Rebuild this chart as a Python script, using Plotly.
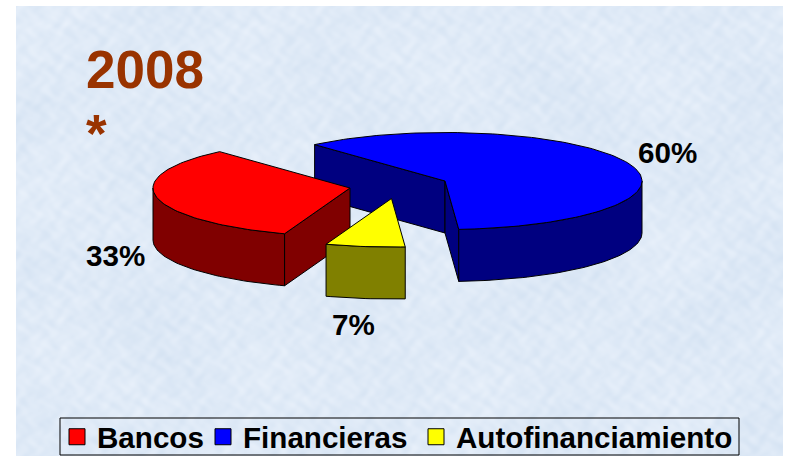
import base64, struct, zlib
import numpy as np
import plotly.graph_objects as go

# --- data ---
categories = ["Bancos", "Financieras", "Autofinanciamiento"]
values = [33.1, 60.4, 6.5]
value_labels = ["33%", "60%", "7%"]
top_colors = ["#ff0000", "#0000ff", "#ffff00"]
side_colors = ["#800000", "#000080", "#808000"]
title_text = "2008"
note_text = "*"

# --- projection of the 3-D pie, in page pixels ---
RX, RY, DEPTH = 197.0, 48.5, 52.0
START_DEG = 4.0           # measured from "south", running clockwise on screen
apex = {"Bancos": (350, 188), "Financieras": (445, 181), "Autofinanciamiento": (391.5, 198.5)}
W, H = 786, 456


def rim(cx, cy, a0, a1, dz=0.0):
    n = max(2, int(abs(a1 - a0) / 1.5) + 2)
    t = np.radians(np.linspace(a0, a1, n))
    return cx + RX * np.sin(t), cy + RY * np.cos(t) + dz


spans = {}
a = START_DEG
for name in ["Autofinanciamiento", "Bancos", "Financieras"]:
    sweep = values[categories.index(name)] / sum(values) * 360
    spans[name] = (a, a - sweep)
    a -= sweep

fig = go.Figure()


def poly(xs, ys, fill):
    fig.add_trace(go.Scatter(
        x=list(xs) + [xs[0]], y=list(ys) + [ys[0]], mode="lines", fill="toself",
        fillcolor=fill, line=dict(color="black", width=1), hoverinfo="skip", showlegend=False,
    ))


def wall(cx, cy, a0, a1, fill):
    x1, y1 = rim(cx, cy, a0, a1)
    x2, y2 = rim(cx, cy, a1, a0, DEPTH)
    poly(np.r_[x1, x2], np.r_[y1, y2], fill)


def cut(cx, cy, ang, fill):
    px, py = rim(cx, cy, ang, ang + 1)
    poly([cx, px[0], px[0], cx], [cy, py[0], py[0] + DEPTH, cy + DEPTH], fill)


def top(name):
    i = categories.index(name)
    cx, cy = apex[name]
    x, y = rim(cx, cy, *spans[name])
    poly(np.r_[cx, x], np.r_[cy, y], top_colors[i])


# painter's order: blue at the back, red, then yellow
name = "Financieras"
cx, cy = apex[name]
a0, a1 = spans[name]
side = side_colors[categories.index(name)]
cut(cx, cy, a0, side)
cut(cx, cy, a1, side)
wall(cx, cy, a1, -270, side)     # front cut round to the far right
top(name)

name = "Bancos"
cx, cy = apex[name]
a0, a1 = spans[name]
side = side_colors[categories.index(name)]
cut(cx, cy, a0, side)
wall(cx, cy, a0, -90, side)      # front cut round to the far left
top(name)

name = "Autofinanciamiento"
cx, cy = apex[name]
side = side_colors[categories.index(name)]
wall(cx, cy, spans[name][0], spans[name][1], side)
top(name)

# legend entries: each one in its own legend so it can sit where the reference has it
legend_ids = ["legend", "legend2", "legend3"]
legend_left = [57, 203, 416]
for c, col, lid in zip(categories, top_colors, legend_ids):
    fig.add_trace(go.Scatter(
        x=[None], y=[None], mode="markers", name=c, legend=lid,
        marker=dict(symbol="square", size=17, color=col, line=dict(color="black", width=1)),
    ))
legend_layout = {
    lid: dict(
        orientation="h", x=lx / W, y=1 - 437 / H, xanchor="left", yanchor="middle",
        bgcolor="rgba(0,0,0,0)", borderwidth=0,
        font=dict(size=29.6, color="black", family="Liberation Sans", weight="bold"),
        itemsizing="trace", itemwidth=30,
    )
    for lid, lx in zip(legend_ids, legend_left)
}

label_pos = {"33%": (115.5, 255), "60%": (667.5, 152), "7%": (353.5, 324)}
annotations = [
    dict(x=label_pos[t][0], y=label_pos[t][1], text=f"<b>{t}</b>", showarrow=False, xref="x", yref="y",
         xanchor="center", yanchor="middle", font=dict(size=29.6, color="black", family="Liberation Sans"))
    for t in value_labels
]
annotations += [
    dict(x=84, y=69, text=f"<b>{title_text}</b>", showarrow=False, xref="x", yref="y", xanchor="left",
         yanchor="middle", font=dict(size=53, color="#993300", family="Liberation Sans")),
    dict(x=84, y=133, text=f"<b>{note_text}</b>", showarrow=False, xref="x", yref="y", xanchor="left",
         yanchor="middle", font=dict(size=53, color="#993300", family="Liberation Sans")),
]


# soft mottled backdrop (decoration only), encoded as a small PNG
def backdrop(w=767, h=450):
    yy, xx = np.mgrid[0:h, 0:w].astype(float)
    s = (0.5 * np.sin(xx / 31 + 1.2 * np.sin(yy / 23)) + 0.5 * np.sin(yy / 27 + 1.4 * np.sin(xx / 37))
         + 0.6 * np.sin((xx + yy) / 5.1 + 1.5 * np.sin(xx / 7)) + 0.6 * np.sin((xx - yy) / 4.3 + 1.5 * np.sin(yy / 6))
         + 0.5 * np.sin(xx / 2.3 + 2 * np.sin(yy / 3.1)) + 0.5 * np.sin(yy / 2.7 + 2 * np.sin(xx / 3.7)))
    s = s / 3.2
    base = np.array([223, 234, 247.0])
    amp = np.array([10, 7, 4.0])
    rgb = np.clip(base[None, None, :] + s[:, :, None] * amp, 0, 255).astype(np.uint8)
    raw = b"".join(b"\x00" + rgb[r].tobytes() for r in range(h))

    def chunk(t, d):
        return struct.pack(">I", len(d)) + t + d + struct.pack(">I", zlib.crc32(t + d))

    png = b"\x89PNG\r\n\x1a\n" + chunk(b"IHDR", struct.pack(">IIBBBBB", w, h, 8, 2, 0, 0, 0)) \
        + chunk(b"IDAT", zlib.compress(raw)) + chunk(b"IEND", b"")
    return "data:image/png;base64," + base64.b64encode(png).decode()


fig.update_layout(
    width=W, height=H, margin=dict(l=0, r=0, t=0, b=0, pad=0, autoexpand=False), autosize=False,
    paper_bgcolor="white", plot_bgcolor="rgba(0,0,0,0)",
    xaxis=dict(range=[0, W], visible=False, fixedrange=True),
    yaxis=dict(range=[H, 0], visible=False, fixedrange=True),
    images=[dict(source=backdrop(), xref="x", yref="y", x=16, y=6, sizex=767, sizey=450,
                 sizing="stretch", layer="below", xanchor="left", yanchor="top")],
    shapes=[dict(type="rect", xref="x", yref="y", x0=60, x1=739, y0=418, y1=455,
                 line=dict(color="black", width=1), fillcolor="rgba(0,0,0,0)", layer="above")],
    annotations=annotations,
    showlegend=True,
    font=dict(family="Liberation Sans"),
    **legend_layout,
)

fig.write_html("out.html", config=dict(displayModeBar=False),
               post_script="document.body.style.margin='0';document.body.style.overflow='hidden';")
